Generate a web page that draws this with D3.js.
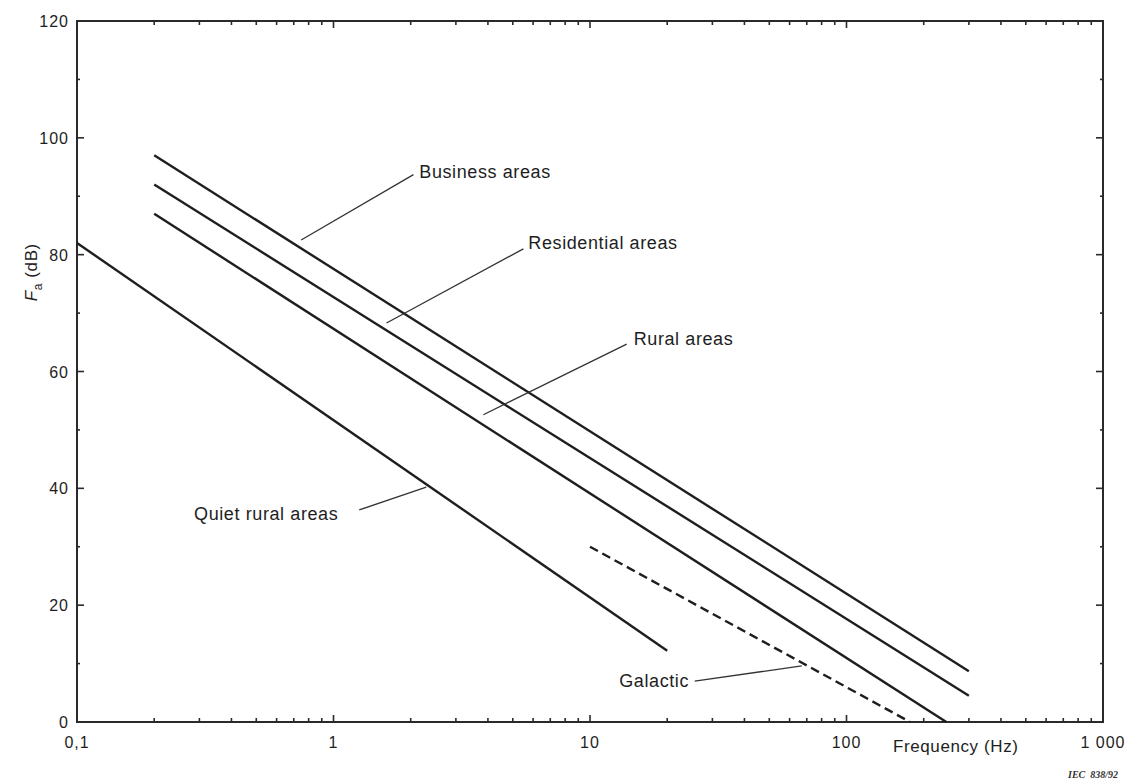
<!DOCTYPE html>
<html>
<head>
<meta charset="utf-8">
<script src="https://cdn.jsdelivr.net/npm/d3@7"></script>
<style>
  body { margin: 0; background: #fff; }
  svg { display: block; font-family: "Liberation Sans", Arial, sans-serif; }
</style>
</head>
<body>
<div id="chart"></div>
<script>
// Noise figure Fa against frequency

const seriesNames = ['Business areas', 'Residential areas', 'Rural areas', 'Quiet rural areas', 'Galactic'];
const freqStart = [0.2, 0.2, 0.2, 0.1, 10];
const freqEnd = [300, 300, 245, 20, 177];
const faStart = [97, 92, 87, 82, 30];
const faEnd = [8.7, 4.5, 0, 12.2, 0];
const dashed = [false, false, false, false, true];

const xTickValues = [0.1, 1, 10, 100, 1000];
const xTickLabels = ['0,1', '1', '10', '100', '1 000'];
const yTickValues = [0, 20, 40, 60, 80, 100, 120];
const yMinorValues = [10, 30, 50, 70, 90, 110];

// label text anchor, leader start and leader end, in (MHz, dB)
const labelText = ['Business areas', 'Residential areas', 'Rural areas', 'Quiet rural areas', 'Galactic'];
const labelAt = [[2.16, 93.2], [5.75, 81.0], [14.8, 64.6], [0.286, 34.6], [13.0, 6.0]];
const leaderFrom = [[2.05, 93.7], [5.5, 81.0], [13.9, 64.7], [1.26, 36.3], [25.6, 7.0]];
const leaderTo = [[0.748, 82.5], [1.61, 68.3], [3.84, 52.6], [2.30, 40.2], [66.9, 9.6]];

const width = 1125, height = 782;
const plotLeft = 77, plotRight = 1103, plotTop = 21, plotBottom = 722;

const svg = d3.select('#chart').append('svg')
    .attr('width', width)
    .attr('height', height);

const x = d3.scaleLog().domain([0.1, 1000]).range([plotLeft, plotRight]);
const y = d3.scaleLinear().domain([0, 120]).range([plotBottom, plotTop]);

const ink = '#1e1e1e';

// frame
svg.append('rect')
    .attr('x', plotLeft).attr('y', plotTop)
    .attr('width', plotRight - plotLeft).attr('height', plotBottom - plotTop)
    .style('fill', 'none')
    .style('stroke', '#2a2a2a')
    .style('stroke-width', 2);

// x ticks: log scale gives 1..9 per decade
const xAll = x.ticks();
const isDecade = v => xTickValues.some(d => Math.abs(d - v) / d < 1e-6);
xAll.forEach(v => {
    const len = isDecade(v) ? 7 : 4;
    if (v <= 0.1 || v >= 1000) return;
    svg.append('line')
        .attr('x1', x(v)).attr('x2', x(v))
        .attr('y1', plotBottom).attr('y2', plotBottom - len)
        .style('stroke', '#2a2a2a').style('stroke-width', 1.6);
    svg.append('line')
        .attr('x1', x(v)).attr('x2', x(v))
        .attr('y1', plotTop).attr('y2', plotTop + len)
        .style('stroke', '#2a2a2a').style('stroke-width', 1.6);
});

// y ticks, left and right
yTickValues.concat(yMinorValues).forEach(v => {
    if (v <= 0 || v >= 120) return;
    const len = yMinorValues.includes(v) ? 3 : 7;
    svg.append('line')
        .attr('x1', plotLeft).attr('x2', plotLeft + len)
        .attr('y1', y(v)).attr('y2', y(v))
        .style('stroke', '#2a2a2a').style('stroke-width', 1.6);
    svg.append('line')
        .attr('x1', plotRight).attr('x2', plotRight - len)
        .attr('y1', y(v)).attr('y2', y(v))
        .style('stroke', '#2a2a2a').style('stroke-width', 1.6);
});

// tick labels
svg.selectAll('.xlab')
    .data(xTickValues)
    .enter().append('text')
    .attr('x', d => x(d))
    .attr('y', plotBottom + 26)
    .attr('text-anchor', 'middle')
    .style('font-size', '16px')
    .style('letter-spacing', '1px')
    .style('fill', ink)
    .text((d, i) => xTickLabels[i]);

svg.selectAll('.ylab')
    .data(yTickValues)
    .enter().append('text')
    .attr('x', plotLeft - 8)
    .attr('y', d => y(d) + 6)
    .attr('text-anchor', 'end')
    .style('font-size', '16px')
    .style('letter-spacing', '1px')
    .style('fill', ink)
    .text(d => d);

// axis titles
svg.append('text')
    .attr('x', 893)
    .attr('y', plotBottom + 30)
    .style('font-size', '17px')
    .style('letter-spacing', '0.6px')
    .style('fill', ink)
    .text('Frequency (Hz)');

const yTitle = svg.append('text')
    .attr('transform', `translate(37, ${y(77)}) rotate(-90)`)
    .attr('text-anchor', 'middle')
    .style('font-size', '17px')
    .style('letter-spacing', '0.6px')
    .style('fill', ink);
yTitle.append('tspan').style('font-style', 'italic').text('F');
yTitle.append('tspan').attr('dy', 5).style('font-size', '12px').text('a');
yTitle.append('tspan').attr('dy', -5).text(' (dB)');

// noise lines
seriesNames.forEach((name, i) => {
    svg.append('line')
        .attr('x1', x(freqStart[i])).attr('y1', y(faStart[i]))
        .attr('x2', x(freqEnd[i])).attr('y2', y(faEnd[i]))
        .style('stroke', ink)
        .style('stroke-width', 2.4)
        .style('stroke-dasharray', dashed[i] ? '9,5' : null);
});

// labels with leader lines
labelText.forEach((t, i) => {
    svg.append('line')
        .attr('x1', x(leaderFrom[i][0])).attr('y1', y(leaderFrom[i][1]))
        .attr('x2', x(leaderTo[i][0])).attr('y2', y(leaderTo[i][1]))
        .style('stroke', '#333')
        .style('stroke-width', 1.3);
    svg.append('text')
        .attr('x', x(labelAt[i][0]))
        .attr('y', y(labelAt[i][1]))
        .style('font-size', '18px')
        .style('letter-spacing', '0.6px')
        .style('fill', ink)
        .text(t);
});

// figure reference
svg.append('text')
    .attr('x', 1118)
    .attr('y', 778)
    .attr('text-anchor', 'end')
    .style('font-family', '"Liberation Serif", serif')
    .style('font-style', 'italic')
    .style('font-weight', 'bold')
    .style('font-size', '10px')
    .style('fill', '#333')
    .attr('xml:space', 'preserve')
    .text('IEC  838/92');
</script>
</body>
</html>
